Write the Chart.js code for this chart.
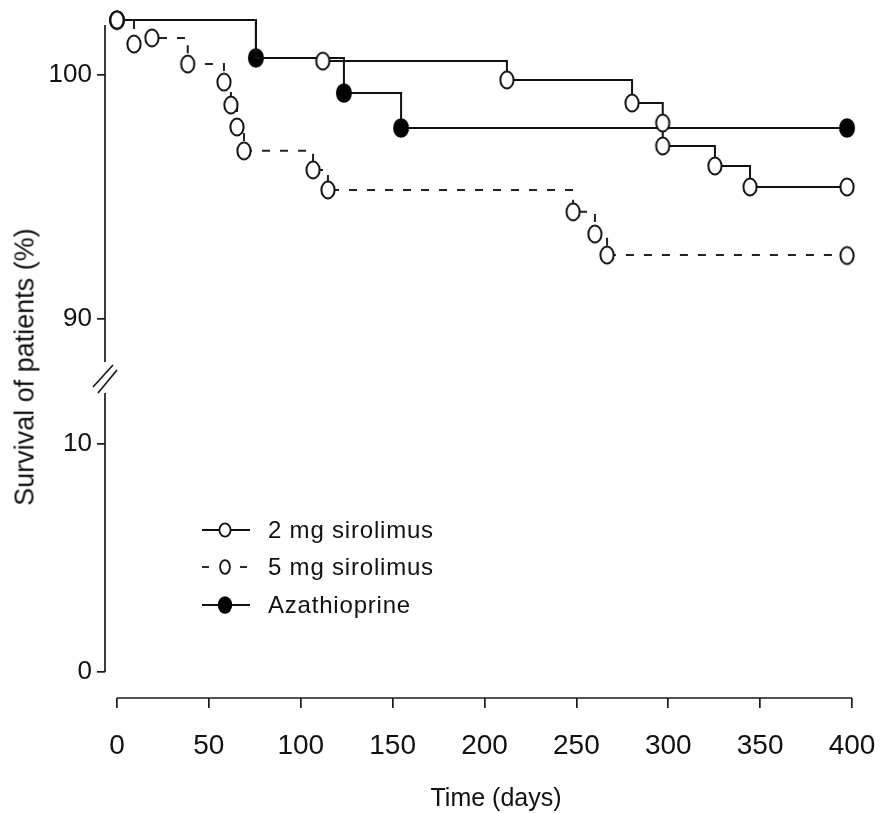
<!DOCTYPE html>
<html>
<head>
<meta charset="utf-8">
<script src="https://cdn.jsdelivr.net/npm/chart.js@4/dist/chart.umd.min.js"></script>
<style>
  html, body { margin: 0; padding: 0; background: #fff; }
  #wrap { position: relative; width: 890px; height: 813px; font-family: "Liberation Sans", Arial, sans-serif; color: #111; }
  #c { position: absolute; left: 0; top: 0; }
  .ytitle { position: absolute; left: 25px; top: 367px; transform: translate(-50%, -50%) rotate(-90deg); font-size: 27px; white-space: nowrap; }
  .xtitle { position: absolute; left: 496px; top: 797px; transform: translate(-50%, -50%); font-size: 25px; white-space: nowrap; }
  .legend { position: absolute; left: 200px; top: 511px; }
  .legend .row { display: flex; align-items: center; height: 37.5px; font-size: 24px; letter-spacing: 0.8px; }
  .legend svg { width: 52px; height: 26px; margin-right: 16px; flex: none; }
</style>
</head>
<body>
<div id="wrap">
  <canvas id="c" width="890" height="813"></canvas>
  <div class="ytitle">Survival of patients (%)</div>
  <div class="xtitle">Time (days)</div>
  <div class="legend" id="legend"></div>
</div>
<script>
// Kaplan–Meier survival by treatment arm: day of each step and survival after it
const days2mg = [0, 75.6, 112, 212.2, 280.3, 297, 297, 325.4, 344.5, 397.3];
const surv2mg = [102.25, 100.70, 100.57, 99.80, 98.85, 98.03, 97.09, 96.27, 95.41, 95.41];

const days5mg = [0, 9.25, 19.0, 38.5, 58.2, 62.0, 65.3, 69.1, 106.7, 114.8, 248.2, 260.1, 266.7, 397.3];
const surv5mg = [102.25, 101.27, 101.52, 100.45, 99.71, 98.77, 97.87, 96.89, 96.11, 95.29, 94.39, 93.48, 92.62, 92.60];

const daysAza = [0, 75.6, 123.5, 154.6, 397.3];
const survAza = [102.25, 100.70, 99.26, 97.83, 97.83];

const seriesNames = ['2 mg sirolimus', '5 mg sirolimus', 'Azathioprine'];

// tick labels
const dayTicks = [0, 50, 100, 150, 200, 250, 300, 350, 400];
const upperTicks = [90, 100];
const lowerTicks = [0, 10];

const FONT = '"Liberation Sans", Arial, sans-serif';
Chart.defaults.font.family = FONT;
Chart.defaults.color = '#111';

// oval markers (open and filled)
function ovalMarker(filled) {
  const c = document.createElement('canvas');
  c.width = 20; c.height = 24;
  const g = c.getContext('2d');
  g.beginPath();
  if (filled) {
    g.ellipse(10, 12, 8, 9.8, 0, 0, Math.PI * 2);
    g.fillStyle = '#000';
    g.fill();
  } else {
    g.ellipse(10, 12, 6.6, 8.5, 0, 0, Math.PI * 2);
    g.fillStyle = '#fff';
    g.fill();
    g.lineWidth = 2;
    g.strokeStyle = '#111';
    g.stroke();
  }
  return c;
}
const openOval = ovalMarker(false);
const filledOval = ovalMarker(true);

const pts = (xs, ys) => xs.map((d, i) => ({ x: d, y: ys[i] }));

// axis lines with a break between the two y segments
const axisLines = {
  id: 'axisLines',
  beforeDatasetsDraw(chart) {
    const { ctx, scales } = chart;
    const x = scales.x, hi = scales.yHigh, lo = scales.yLow;
    const ax = hi.right;
    ctx.save();
    ctx.strokeStyle = '#1a1a1a';
    ctx.lineWidth = 1.7;
    ctx.beginPath();
    // upper y segment
    ctx.moveTo(ax, hi.top);
    ctx.lineTo(ax, hi.bottom - 15);
    // lower y segment
    ctx.moveTo(ax, lo.top + 16);
    ctx.lineTo(ax, lo.getPixelForValue(0));
    // break marks
    const gy = hi.bottom;
    ctx.moveTo(ax - 12, gy + 10);
    ctx.lineTo(ax + 8, gy - 12);
    ctx.moveTo(ax - 7, gy + 16);
    ctx.lineTo(ax + 12, gy - 7);
    // x axis
    ctx.moveTo(x.getPixelForValue(dayTicks[0]), x.top);
    ctx.lineTo(x.getPixelForValue(dayTicks[dayTicks.length - 1]), x.top);
    ctx.stroke();
    ctx.restore();
  }
};

const tickGrid = (len) => ({ drawOnChartArea: false, drawTicks: true, tickLength: len, color: '#1a1a1a', lineWidth: 1.7 });

new Chart(document.getElementById('c'), {
  type: 'line',
  data: {
    datasets: [
      {
        label: seriesNames[0],
        data: pts(days2mg, surv2mg),
        yAxisID: 'yHigh',
        stepped: 'before',
        borderColor: '#111',
        borderWidth: 2,
        pointStyle: openOval,
        // the day-75 drop is shared with azathioprine, whose filled marker shows it
        pointRadius: (ctx) => (ctx.dataIndex === 1 ? 0 : 8),
        pointHoverRadius: (ctx) => (ctx.dataIndex === 1 ? 0 : 8),
        clip: false,
        order: 0
      },
      {
        label: seriesNames[1],
        data: pts(days5mg, surv5mg),
        yAxisID: 'yHigh',
        stepped: 'before',
        borderColor: '#222',
        borderWidth: 2,
        borderDash: [8, 10],
        pointStyle: openOval,
        pointRadius: 8,
        pointHoverRadius: 8,
        clip: false,
        order: 2
      },
      {
        label: seriesNames[2],
        data: pts(daysAza, survAza),
        yAxisID: 'yHigh',
        stepped: 'before',
        borderColor: '#111',
        borderWidth: 2,
        pointStyle: filledOval,
        pointRadius: 8,
        pointHoverRadius: 8,
        clip: false,
        order: 1
      }
    ]
  },
  options: {
    responsive: false,
    devicePixelRatio: 1,
    animation: false,
    events: [],
    layout: { padding: { top: 25, right: 38, bottom: 0, left: 0 } },
    plugins: { legend: { display: false }, tooltip: { enabled: false } },
    scales: {
      x: {
        type: 'linear',
        min: -6.53,
        max: 400,
        border: { display: false },
        grid: tickGrid(10),
        afterBuildTicks: (s) => { s.ticks = dayTicks.map((v) => ({ value: v })); },
        afterFit: (s) => {
          s.height = 115;
          // the outer labels fit inside the fixed page margin
          s.paddingLeft = 0;
          s.paddingRight = 0;
        },
        ticks: { font: { size: 28 }, color: '#111', padding: 21, maxRotation: 0, autoSkip: false }
      },
      yLow: {
        type: 'linear',
        position: 'left',
        stack: 'surv',
        stackWeight: 321,
        min: -1.14,
        max: 12.94,
        border: { display: false },
        grid: tickGrid(8),
        afterBuildTicks: (s) => { s.ticks = lowerTicks.map((v) => ({ value: v })); },
        afterFit: (s) => { s.width = 105; },
        ticks: { font: { size: 26 }, color: '#111', padding: 5 }
      },
      yHigh: {
        type: 'linear',
        position: 'left',
        stack: 'surv',
        stackWeight: 352,
        min: 87.62,
        max: 102.05,
        border: { display: false },
        grid: tickGrid(8),
        afterBuildTicks: (s) => { s.ticks = upperTicks.map((v) => ({ value: v })); },
        afterFit: (s) => { s.width = 105; },
        ticks: { font: { size: 26 }, color: '#111', padding: 5 }
      }
    }
  },
  plugins: [axisLines]
});

// legend: line/marker symbol per arm
const legendSymbols = [
  '<line x1="2" y1="13" x2="50" y2="13" stroke="#111" stroke-width="1.9"/>' +
  '<ellipse cx="25" cy="13" rx="5.6" ry="6.6" fill="#fff" stroke="#111" stroke-width="1.8"/>',
  '<line x1="2" y1="13" x2="9" y2="13" stroke="#222" stroke-width="1.9"/>' +
  '<line x1="40" y1="13" x2="47" y2="13" stroke="#222" stroke-width="1.9"/>' +
  '<ellipse cx="25" cy="13" rx="4.9" ry="6.9" fill="#fff" stroke="#111" stroke-width="1.8"/>',
  '<line x1="2" y1="13" x2="50" y2="13" stroke="#111" stroke-width="1.9"/>' +
  '<ellipse cx="25" cy="13" rx="7.2" ry="8.8" fill="#000"/>'
];
const legend = document.getElementById('legend');
seriesNames.forEach((name, i) => {
  const row = document.createElement('div');
  row.className = 'row';
  row.innerHTML = '<svg viewBox="0 0 52 26">' + legendSymbols[i] + '</svg>';
  const span = document.createElement('span');
  span.textContent = name;
  row.appendChild(span);
  legend.appendChild(row);
});
</script>
</body>
</html>
